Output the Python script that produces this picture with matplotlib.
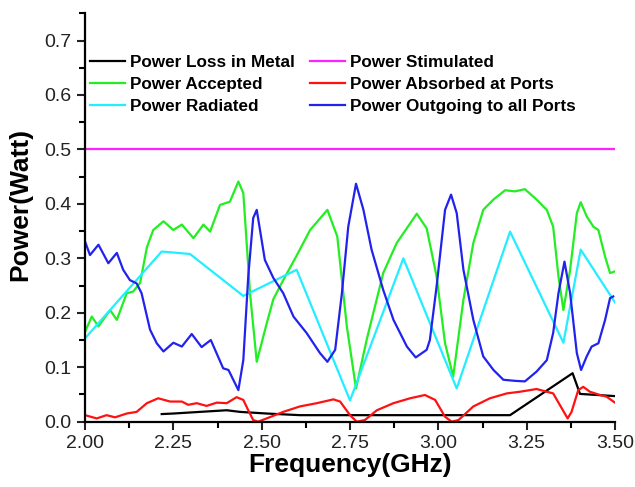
import numpy as np
import matplotlib.pyplot as plt
from matplotlib.ticker import MultipleLocator, FormatStrFormatter

plt.rc('font', family='Liberation Sans')

# Power Accepted (green)
f_acc = [2.000, 2.019, 2.038, 2.071, 2.090, 2.118, 2.136, 2.156, 2.175, 2.193, 2.222, 2.250, 2.274,
         2.307, 2.335, 2.354, 2.382, 2.410, 2.434, 2.448, 2.467, 2.486, 2.514, 2.533, 2.561, 2.599,
         2.637, 2.686, 2.714, 2.741, 2.767, 2.797, 2.844, 2.882, 2.939, 2.967, 2.995, 3.019, 3.042,
         3.071, 3.099, 3.127, 3.156, 3.189, 3.217, 3.245, 3.278, 3.307, 3.325, 3.340, 3.354, 3.373,
         3.392, 3.403, 3.420, 3.439, 3.453, 3.472, 3.486, 3.500]
p_acc = [0.165, 0.193, 0.175, 0.205, 0.187, 0.236, 0.239, 0.255, 0.320, 0.352, 0.368, 0.352, 0.362,
         0.337, 0.362, 0.349, 0.398, 0.404, 0.441, 0.420, 0.236, 0.110, 0.180, 0.225, 0.260, 0.305,
         0.352, 0.389, 0.340, 0.175, 0.061, 0.150, 0.273, 0.328, 0.382, 0.355, 0.267, 0.144, 0.083,
         0.224, 0.328, 0.389, 0.408, 0.425, 0.423, 0.427, 0.408, 0.389, 0.358, 0.267, 0.205, 0.279,
         0.383, 0.403, 0.377, 0.358, 0.352, 0.303, 0.273, 0.276]

# Power Outgoing to all Ports (blue)
f_out = [2.000, 2.014, 2.038, 2.066, 2.090, 2.108, 2.127, 2.146, 2.160, 2.184, 2.203, 2.222, 2.250,
         2.274, 2.302, 2.330, 2.356, 2.391, 2.406, 2.434, 2.448, 2.462, 2.476, 2.486, 2.509, 2.533,
         2.561, 2.590, 2.627, 2.665, 2.686, 2.708, 2.727, 2.745, 2.767, 2.788, 2.811, 2.844, 2.873,
         2.911, 2.936, 2.967, 2.976, 2.995, 3.019, 3.036, 3.052, 3.071, 3.099, 3.127, 3.156, 3.184,
         3.217, 3.245, 3.278, 3.307, 3.325, 3.340, 3.357, 3.373, 3.392, 3.404, 3.420, 3.434, 3.453,
         3.472, 3.486, 3.495]
p_out = [0.331, 0.306, 0.325, 0.291, 0.310, 0.279, 0.260, 0.254, 0.236, 0.169, 0.144, 0.129, 0.145,
         0.138, 0.161, 0.137, 0.150, 0.098, 0.095, 0.058, 0.113, 0.267, 0.374, 0.389, 0.297, 0.264,
         0.236, 0.193, 0.163, 0.126, 0.110, 0.132, 0.236, 0.358, 0.437, 0.389, 0.316, 0.242, 0.187,
         0.138, 0.118, 0.132, 0.150, 0.248, 0.389, 0.417, 0.383, 0.279, 0.187, 0.120, 0.095, 0.077,
         0.075, 0.074, 0.092, 0.113, 0.163, 0.236, 0.294, 0.236, 0.126, 0.095, 0.120, 0.138, 0.144,
         0.187, 0.227, 0.230]

# Power Radiated (cyan)
f_rad = [2.000, 2.217, 2.297, 2.448, 2.599, 2.750, 2.901, 3.052, 3.203, 3.354, 3.403, 3.500]
p_rad = [0.153, 0.3125, 0.308, 0.231, 0.279, 0.039, 0.300, 0.061, 0.349, 0.145, 0.316, 0.219]

# Power Absorbed at Ports (red)
f_abs = [2.000, 2.033, 2.061, 2.085, 2.118, 2.146, 2.175, 2.207, 2.241, 2.274, 2.292, 2.316, 2.344,
         2.373, 2.401, 2.429, 2.448, 2.462, 2.476, 2.490, 2.514, 2.561, 2.608, 2.656, 2.703, 2.722,
         2.750, 2.769, 2.792, 2.826, 2.873, 2.920, 2.962, 2.991, 3.019, 3.038, 3.057, 3.099, 3.146,
         3.194, 3.231, 3.278, 3.307, 3.325, 3.349, 3.366, 3.377, 3.396, 3.410, 3.429, 3.458, 3.476,
         3.500]
p_abs = [0.012, 0.006, 0.012, 0.008, 0.015, 0.018, 0.034, 0.043, 0.037, 0.037, 0.031, 0.034, 0.029,
         0.035, 0.034, 0.045, 0.040, 0.021, 0.003, 0.000, 0.006, 0.018, 0.028, 0.034, 0.041, 0.037,
         0.012, 0.000, 0.003, 0.021, 0.034, 0.043, 0.049, 0.040, 0.009, 0.000, 0.003, 0.028, 0.043,
         0.052, 0.055, 0.060, 0.055, 0.052, 0.025, 0.006, 0.018, 0.058, 0.064, 0.055, 0.049, 0.046,
         0.035]

# Power Loss in Metal (black)
f_loss = [2.217, 2.250, 2.325, 2.401, 2.439, 2.514, 2.608, 3.203, 3.380, 3.401, 3.500]
p_loss = [0.014, 0.015, 0.018, 0.021, 0.018, 0.015, 0.012, 0.012, 0.089, 0.051, 0.047]

# Power Stimulated (magenta)
f_stim = [2.0, 3.5]
p_stim = [0.5, 0.5]

fig = plt.figure(figsize=(6.35, 4.87), dpi=100)
ax = fig.add_axes([0.1339, 0.1341, 0.8346, 0.8386])

lw = 1.6
l1, = ax.plot(f_loss, p_loss, color='black', lw=lw)
l2, = ax.plot(f_acc, p_acc, color='#22ee22', lw=lw)
l3, = ax.plot(f_rad, p_rad, color='#22eeff', lw=lw)
l4, = ax.plot(f_stim, p_stim, color='#ff22ff', lw=lw)
l5, = ax.plot(f_abs, p_abs, color='#ff1111', lw=lw)
l6, = ax.plot(f_out, p_out, color='#2222ee', lw=lw)

ax.set_xlim(2.0, 3.5)
ax.set_ylim(0.0, 0.75)

ax.spines['top'].set_visible(False)
ax.spines['right'].set_visible(False)
ax.spines['left'].set_linewidth(1.6)
ax.spines['bottom'].set_linewidth(1.6)

ax.xaxis.set_major_locator(MultipleLocator(0.25))
ax.xaxis.set_minor_locator(MultipleLocator(0.125))
ax.yaxis.set_major_locator(MultipleLocator(0.1))
ax.yaxis.set_minor_locator(MultipleLocator(0.05))
ax.xaxis.set_major_formatter(FormatStrFormatter('%.2f'))
ax.yaxis.set_major_formatter(FormatStrFormatter('%.1f'))
ax.tick_params(which='major', direction='out', length=6, width=1.5, labelsize=14, colors='#222222')
ax.tick_params(which='minor', direction='out', length=4, width=1.5)

ax.set_xlabel('Frequency(GHz)', fontsize=19, fontweight='bold', labelpad=1)
ax.set_ylabel('Power(Watt)', fontsize=19, fontweight='bold')
ax.yaxis.set_label_coords(-0.10, 0.533)

ax.legend([l1, l2, l3, l4, l5, l6],
          ['Power Loss in Metal', 'Power Accepted', 'Power Radiated',
           'Power Stimulated', 'Power Absorbed at Ports', 'Power Outgoing to all Ports'],
          ncol=2, frameon=False, loc='upper left', bbox_to_anchor=(-0.0094, 0.924),
          prop={'weight': 'bold', 'size': 12.3}, handlelength=2.05, handletextpad=0.3,
          columnspacing=0.86, labelspacing=0.43, borderaxespad=0.2)

plt.savefig('out.png')
